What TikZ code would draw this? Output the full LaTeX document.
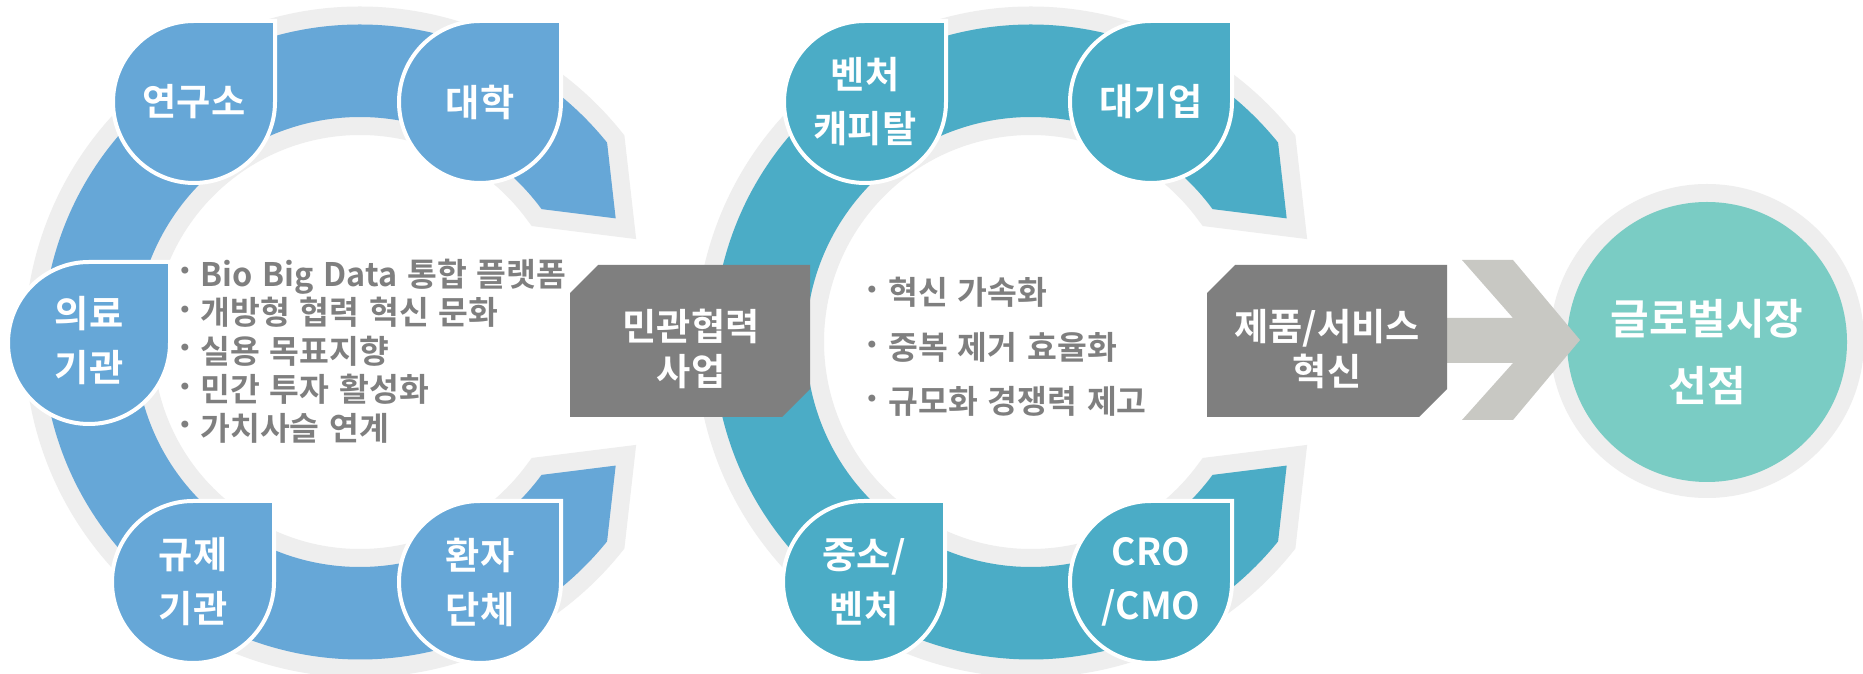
\documentclass[tikz,border=0pt]{standalone}
\usepackage{fontspec}
\newfontfamily\kr{Noto Sans CJK KR}[BoldFont={Noto Sans CJK KR Bold}]
\newfontfamily\krw{Noto Sans CJK KR}[BoldFont={Noto Sans CJK KR Bold}, WordSpace=1.35]
\newfontfamily\dvs{DejaVu Sans}
\definecolor{lblue}{HTML}{66A7D7}
\definecolor{aqua}{HTML}{4BACC6}
\definecolor{ringgray}{HTML}{EEEEEE}
\definecolor{boxgray}{HTML}{7F7F7F}
\definecolor{arrowgray}{HTML}{C8C8C3}
\definecolor{tealc}{HTML}{7ACCC4}
\definecolor{txtgray}{HTML}{7F7F7F}
\newcommand\dropshape[2]{%
  \filldraw[fill=#2, draw=white, line width=2pt, line join=miter]
    (#1) ++(81,0) -- ++(0,81) -- ++(-81,0)
    arc[start angle=90, end angle=360, radius=81] -- cycle;}
\begin{document}
\begin{tikzpicture}[x=0.5pt, y=0.5pt,
  ctext/.style={text=white, font=\kr\bfseries\fontsize{18.6}{27}\selectfont, align=center, inner sep=0pt},
  btext/.style={text=white, font=\kr\bfseries\fontsize{18.6}{22.5}\selectfont, align=center, inner sep=0pt},
  gtext/.style={text=white, font=\kr\bfseries\fontsize{21}{33.5}\selectfont, align=center, inner sep=0pt},
  ltext/.style={text=txtgray, font=\krw\bfseries\fontsize{16.2}{19}\selectfont, anchor=west, inner sep=0pt, text height=13.2pt, text depth=0.6pt},
  bul/.style={text=txtgray, font=\dvs\fontsize{12}{12}\selectfont, inner sep=0pt},
  halo/.style={fill=ringgray, draw=ringgray, line width=18pt, line join=miter},
  band/.style={fill=#1}
]
\fill[white] (0,0) rectangle (1863,674);
\useasboundingbox (0,0) rectangle (1863,674);

% ring halos and bands
\foreach \cx/\col in {360/lblue, 1031/aqua}{
  \begin{scope}[shift={(\cx,332)}]
    \path[halo] (38.9:317.5) arc[start angle=38.9, end angle=321.1, radius=317.5]
      -- (-25.8:284) -- (-36.2:225)
      arc[start angle=-36.2, end angle=-323.8, radius=225] -- (25.8:284) -- cycle;
  \end{scope}
}
\foreach \cx/\col in {360/lblue, 1031/aqua}{
  \begin{scope}[shift={(\cx,332)}]
    \path[band=\col] (38.9:317.5) arc[start angle=38.9, end angle=321.1, radius=317.5]
      -- (-25.8:284) -- (-36.2:225)
      arc[start angle=-36.2, end angle=-323.8, radius=225] -- (25.8:284) -- cycle;
  \end{scope}
}

% left ring circles
\dropshape{194,572}{lblue}
\dropshape{480,572}{lblue}
\dropshape{89,331}{lblue}
\dropshape{193,92}{lblue}
\dropshape{480,92}{lblue}
\node[ctext] (yeon) at (194,572) {연구소};
\node[ctext] (dae) at (480,572) {대학};
\node[ctext] (uiro) at (89,333) {의료\\기관};
\node[ctext] (gyu) at (193,92) {규제\\기관};
\node[ctext] (hwan) at (480,92) {환자\\단체};

% right ring circles
\dropshape{865,572}{aqua}
\dropshape{1151,572}{aqua}
\dropshape{864,92}{aqua}
\dropshape{1151,92}{aqua}
\node[ctext] (vc) at (865,572) {벤처\\캐피탈};
\node[ctext] (big) at (1151,572) {대기업};
\node[ctext] (sme) at (864,92) {중소/\\벤처};
\node[ctext] (cro) at (1151,92) {CRO\\/CMO};

% big circle
\fill[ringgray] (1707,333) circle[radius=157];
\fill[tealc] (1707,332) circle[radius=140];
\node[gtext] (gm) at (1707,322) {글로벌시장\\선점};

% arrow
\fill[arrowgray] (1440,356) -- (1513,356) -- (1462,414) -- (1513,414) -- (1580,334)
  -- (1513,254) -- (1462,254) -- (1513,311) -- (1440,311) -- cycle;

% boxes
\fill[boxgray] (570,381) -- (598,409) -- (810,409) -- (810,285) -- (782,257) -- (570,257) -- cycle;
\fill[boxgray] (1207,381) -- (1235,409) -- (1447,409) -- (1447,285) -- (1419,257) -- (1207,257) -- cycle;
\node[btext] (mg) at (691,325) {민관협력\\사업};
\node[btext] (ps) at (1327,325) {제품/서비스\\혁신};

% left bullets
\foreach \yy/\nm/\tx in {400.5/l1/{Bio Big Data 통합 플랫폼}, 362/l2/{개방형 협력 혁신 문화}, 323.5/l3/{실용 목표지향}, 285/l4/{민간 투자 활성화}, 246.5/l5/{가치사슬 연계}}{
  \node[bul] (b\nm) at (185,\yy) {•};
  \node[ltext] (\nm) at (200,\yy) {\tx};
}
% right bullets
\foreach \yy/\nm/\tx in {382/r1/{혁신 가속화}, 327/r2/{중복 제거 효율화}, 273/r3/{규모화 경쟁력 제고}}{
  \node[bul] (b\nm) at (872,\yy) {•};
  \node[ltext] (\nm) at (888,\yy) {\tx};
}
\end{tikzpicture}
\end{document}
